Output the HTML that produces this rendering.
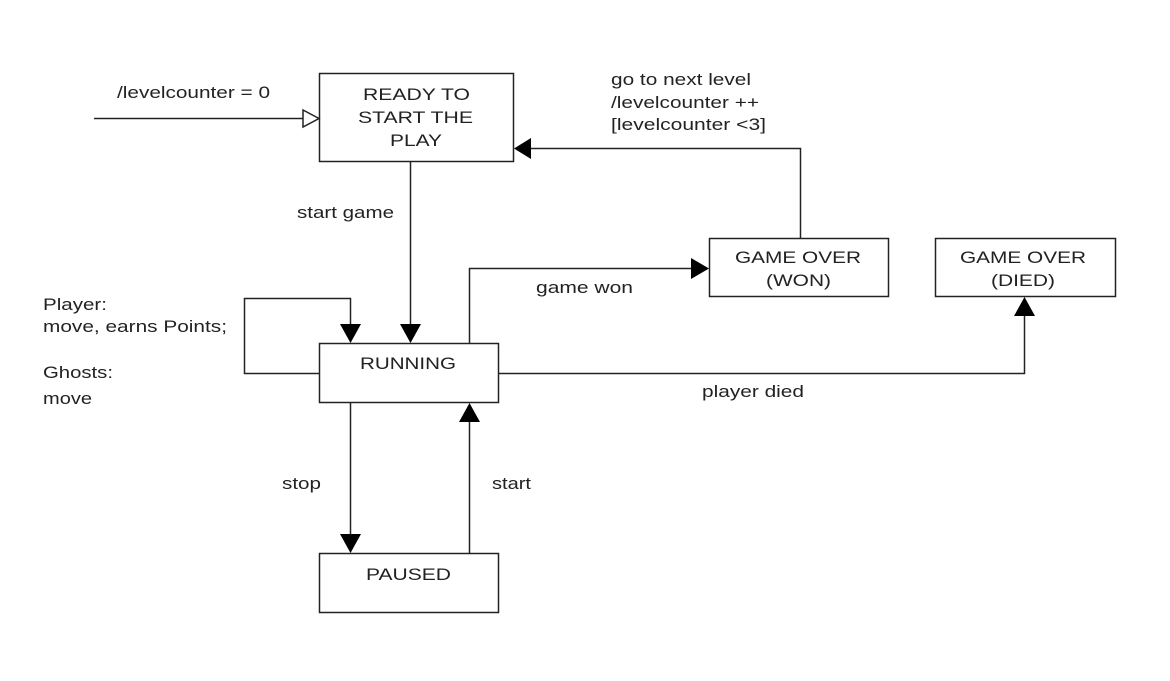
<!DOCTYPE html>
<html><head><meta charset="utf-8"><style>
html,body{margin:0;padding:0;background:#fff;}
svg{display:block;}
text{font-family:"Liberation Sans",Arial,sans-serif;font-size:17px;fill:#222;}
</style></head><body>
<svg width="1170" height="681" viewBox="0 0 1170 681" xmlns="http://www.w3.org/2000/svg">
<g fill="none" stroke="#222" stroke-width="1.5">
<rect x="319.5" y="73.5" width="194" height="88"/>
<rect x="319.5" y="343.5" width="179" height="59"/>
<rect x="319.5" y="553.5" width="179" height="59"/>
<rect x="709.5" y="238.5" width="179" height="58"/>
<rect x="935.5" y="238.5" width="180" height="58"/>
<line x1="94" y1="118.5" x2="303" y2="118.5"/>
<polygon points="303,110 319,118.5 303,127" fill="#fff"/>
<line x1="410.5" y1="162" x2="410.5" y2="326"/>
<polyline points="319,373.5 244.5,373.5 244.5,298.5 350.5,298.5 350.5,326"/>
<polyline points="469.5,343 469.5,268.5 693,268.5"/>
<polyline points="800.5,238 800.5,148.5 529,148.5"/>
<polyline points="499,373.5 1024.5,373.5 1024.5,314"/>
<line x1="350.5" y1="403" x2="350.5" y2="536"/>
<line x1="469.5" y1="553" x2="469.5" y2="420"/>
</g>
<g fill="#000">
<polygon points="400,324 421,324 410.5,343"/>
<polygon points="340,324 361,324 350.5,343"/>
<polygon points="691,258 709,268.5 691,279"/>
<polygon points="531,138 514,148.5 531,159"/>
<polygon points="1014,316 1035,316 1024.5,297"/>
<polygon points="340,534 361,534 350.5,553"/>
<polygon points="459,422 480,422 469.5,403"/>
</g>
<text x="117" y="98" textLength="153" lengthAdjust="spacingAndGlyphs">/levelcounter = 0</text>
<text x="363" y="100" textLength="107" lengthAdjust="spacingAndGlyphs">READY TO</text>
<text x="358" y="123" textLength="115" lengthAdjust="spacingAndGlyphs">START THE</text>
<text x="390" y="146" textLength="52" lengthAdjust="spacingAndGlyphs">PLAY</text>
<text x="297" y="218" textLength="97" lengthAdjust="spacingAndGlyphs">start game</text>
<text x="360" y="369" textLength="96" lengthAdjust="spacingAndGlyphs">RUNNING</text>
<text x="43" y="310" textLength="64" lengthAdjust="spacingAndGlyphs">Player:</text>
<text x="43" y="332" textLength="184" lengthAdjust="spacingAndGlyphs">move, earns Points;</text>
<text x="43" y="378" textLength="70" lengthAdjust="spacingAndGlyphs">Ghosts:</text>
<text x="43" y="404" textLength="49" lengthAdjust="spacingAndGlyphs">move</text>
<text x="611" y="85" textLength="140" lengthAdjust="spacingAndGlyphs">go to next level</text>
<text x="611" y="108" textLength="148" lengthAdjust="spacingAndGlyphs">/levelcounter ++</text>
<text x="611" y="130" textLength="155" lengthAdjust="spacingAndGlyphs">[levelcounter &lt;3]</text>
<text x="735" y="263" textLength="126" lengthAdjust="spacingAndGlyphs">GAME OVER</text>
<text x="766" y="286" textLength="65" lengthAdjust="spacingAndGlyphs">(WON)</text>
<text x="960" y="263" textLength="126" lengthAdjust="spacingAndGlyphs">GAME OVER</text>
<text x="991" y="286" textLength="64" lengthAdjust="spacingAndGlyphs">(DIED)</text>
<text x="536" y="293" textLength="97" lengthAdjust="spacingAndGlyphs">game won</text>
<text x="702" y="397" textLength="102" lengthAdjust="spacingAndGlyphs">player died</text>
<text x="282" y="489" textLength="39" lengthAdjust="spacingAndGlyphs">stop</text>
<text x="492" y="489" textLength="39" lengthAdjust="spacingAndGlyphs">start</text>
<text x="366" y="580" textLength="85" lengthAdjust="spacingAndGlyphs">PAUSED</text>
</svg>
</body></html>
